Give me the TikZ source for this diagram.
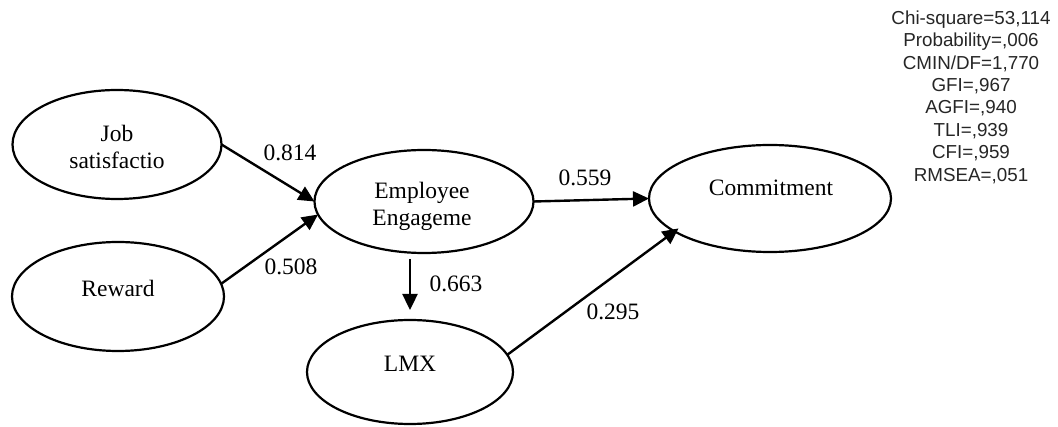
\documentclass[tikz,border=0pt]{standalone}
\usepackage{fontspec}
\setmainfont{Liberation Serif}
\newfontfamily\arialf{Liberation Sans}
\usetikzlibrary{shapes.geometric,arrows.meta,calc}
\begin{document}
\begin{tikzpicture}[x=1pt,y=-1pt,
  latent/.style={ellipse,draw,line width=2.2pt,inner sep=0pt,outer sep=0pt},
  vtxt/.style={font=\fontsize{23.5}{27}\selectfont,align=center,inner sep=0pt},
  coef/.style={font=\fontsize{23.5}{27}\selectfont,inner sep=0pt},
  pth/.style={line width=2.4pt,-{Triangle[length=16pt,width=15pt]}},
  fit/.style={font=\arialf\fontsize{18.8}{22.4}\selectfont,align=center,inner sep=0pt,text=black!85}
]
\useasboundingbox[fill=white] (0,0) rectangle (1058,427);
% latent variables
\node[latent,minimum width=209pt,minimum height=109pt] (job) at (117,144.5) {};
\node[latent,minimum width=212pt,minimum height=109pt] (rew) at (118,296.5) {};
\node[latent,minimum width=219pt,minimum height=103pt] (eng) at (424,201.5) {};
\node[latent,minimum width=242pt,minimum height=107pt] (com) at (770,198.5) {};
\node[latent,minimum width=206pt,minimum height=104pt] (lmx) at (410,372) {};
% texts
\node[vtxt] (tjob) at (117,146.5) {Job\\satisfactio};
\node[vtxt] (trew) at (118,288) {Reward};
\node[vtxt] (teng) at (422,206.5) {Employee\\Engageme};
\node[vtxt] (tcom) at (771,188) {Commitment};
\node[vtxt] (tlmx) at (410,364) {LMX};
% paths
\draw[pth] (job.east) -- (eng.west);
\draw[pth] (rew.7) -- (eng.187);
\draw[pth] (eng.east) -- (com.west);
\draw[pth,shorten <=6pt,shorten >=10pt] (lmx.north |- eng.south) -- (lmx.north);
\draw[pth,shorten >=-5pt] (lmx.10) -- (com.199);
% coefficients
\node[coef] (c1) at (290,153) {0.814};
\node[coef] (c2) at (291,267) {0.508};
\node[coef] (c3) at (456,284) {0.663};
\node[coef] (c4) at (585,178) {0.559};
\node[coef] (c5) at (613,312) {0.295};
% fit indices
\node[fit] (fitidx) at (971,97) {Chi-square=53,114\\Probability=,006\\CMIN/DF=1,770\\GFI=,967\\AGFI=,940\\TLI=,939\\CFI=,959\\RMSEA=,051};
\end{tikzpicture}
\end{document}
